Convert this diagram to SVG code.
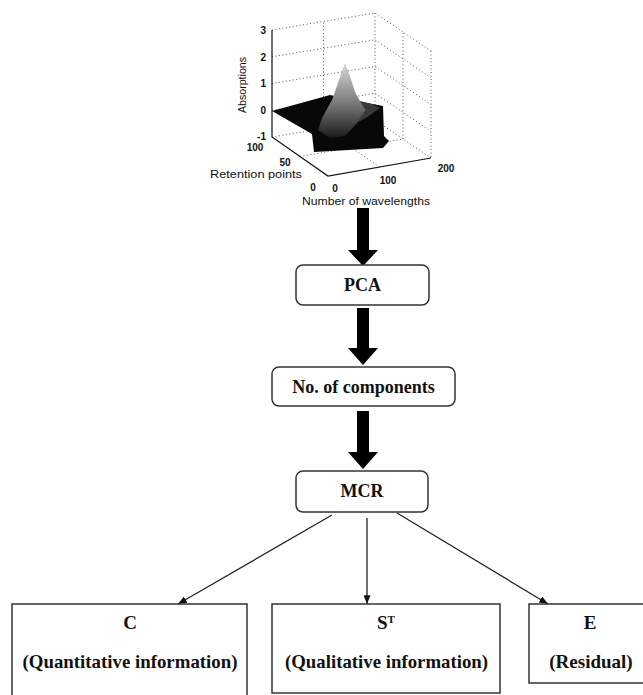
<svg xmlns="http://www.w3.org/2000/svg" width="643" height="695" viewBox="0 0 643 695">
<defs>
<style>
.box{fill:#fff;stroke:#333;stroke-width:1.5}
.t{font-family:"Liberation Serif","Times New Roman",serif;font-weight:bold;fill:#111;text-anchor:middle}
.up{font-size:18px}
.low{font-size:19px}
.ax{font-family:"Liberation Sans",Arial,sans-serif;fill:#111}
.num{font-size:10px;font-weight:bold}
.dot{stroke:#555;stroke-width:1;stroke-dasharray:1 2.5;fill:none}
.axis{stroke:#111;stroke-width:1.2;fill:none}
.big{fill:#000}
.thin{stroke:#222;stroke-width:1.3;fill:none;marker-end:url(#ah)}
</style>
<marker id="ah" viewBox="0 0 10 8" refX="10" refY="4" markerWidth="9" markerHeight="7" markerUnits="userSpaceOnUse" orient="auto">
<path d="M0,0 L10,4 L0,8 z" fill="#111"/>
</marker>
<linearGradient id="ridge" x1="0" y1="0" x2="0" y2="1">
<stop offset="0" stop-color="#d8d8d8"/>
<stop offset="0.45" stop-color="#8a8a8a"/>
<stop offset="1" stop-color="#1a1a1a"/>
</linearGradient>
</defs>
<rect width="643" height="695" fill="#fff"/>

<g id="plot">
<polyline class="dot" points="272,30 375,13 431,51"/>
<line class="dot" x1="375" y1="13" x2="375" y2="120"/>
<line class="dot" x1="431" y1="51" x2="431" y2="158"/>
<polyline class="dot" points="272,137 375,120 431,158"/>
<polyline class="dot" points="272,56.8 375,39.8 431,77.8"/>
<polyline class="dot" points="272,83.5 375,66.5 431,104.5"/>
<polyline class="dot" points="272,110.3 375,93.3 431,131.3"/>
<line class="dot" x1="323.5" y1="128.5" x2="323.5" y2="21.5"/>
<line class="dot" x1="403" y1="139" x2="403" y2="32"/>
<line class="dot" x1="300" y1="156.5" x2="403" y2="139"/>
<line class="dot" x1="379.5" y1="167" x2="323.5" y2="128.5"/>
<polygon points="272,111 330,95 362,102 383,106 384,136 389,141 383,148 314,152 312,134" fill="#080808"/>
<polygon points="345,63 350,76 355,92 360,101 366,110 358,122 345,136 330,138 318,130 322,118 332,100 339,80" fill="url(#ridge)"/>
<polygon points="360,101 372,104 380,108 366,118 358,122 366,110" fill="#3a3a3a"/>
<polyline class="axis" points="272,30 272,137 328,176 431,158"/>
<g class="ax num" text-anchor="end">
<text x="266" y="34">3</text>
<text x="266" y="61">2</text>
<text x="266" y="87">1</text>
<text x="266" y="114">0</text>
<text x="266" y="140">-1</text>
</g>
<g class="ax num" text-anchor="middle">
<text x="255" y="151">100</text>
<text x="285" y="166">50</text>
<text x="313" y="191">0</text>
<text x="335" y="192">0</text>
<text x="388" y="184">100</text>
<text x="446" y="172">200</text>
</g>
<text class="ax" font-size="10" text-anchor="middle" transform="translate(246,85) rotate(-90)" textLength="56" lengthAdjust="spacingAndGlyphs">Absorptions</text>
<text class="ax" font-size="10" x="210" y="178" textLength="92" lengthAdjust="spacingAndGlyphs">Retention points</text>
<text class="ax" font-size="11" x="302" y="205" textLength="128" lengthAdjust="spacingAndGlyphs">Number of wavelengths</text>
</g>

<g id="connectors">
<polygon class="big" points="357,208 369,208 369,250 378,250 363,266 348,250 357,250"/>
<polygon class="big" points="357,308 369,308 369,348 378,348 363,365 348,348 357,348"/>
<polygon class="big" points="357,411 369,411 369,452 378,452 363,469 348,452 357,452"/>
<line class="thin" x1="332" y1="515" x2="178" y2="604"/>
<line class="thin" x1="367" y1="518" x2="367" y2="604"/>
<line class="thin" x1="397" y1="513" x2="548" y2="604"/>
</g>

<g id="pca">
<rect class="box" x="296" y="265" width="133" height="40" rx="7"/>
<text class="t up" x="362.5" y="291">PCA</text>
</g>
<g id="components">
<rect class="box" x="272" y="367" width="183" height="39" rx="7"/>
<text class="t up" x="363.5" y="393">No. of components</text>
</g>
<g id="mcr">
<rect class="box" x="296" y="471" width="132" height="41" rx="7"/>
<text class="t up" x="362" y="497">MCR</text>
</g>
<g id="c">
<rect class="box" x="12" y="604" width="235" height="110"/>
<text class="t low" x="130" y="629">C</text>
<text class="t low" x="130" y="668" textLength="215" lengthAdjust="spacingAndGlyphs">(Quantitative information)</text>
</g>
<g id="st">
<rect class="box" x="272" y="604" width="228" height="89"/>
<text class="t low" x="386" y="629">S<tspan font-size="11" dy="-6">T</tspan></text>
<text class="t low" x="386.5" y="668" textLength="203" lengthAdjust="spacingAndGlyphs">(Qualitative information)</text>
</g>
<g id="e">
<rect class="box" x="529" y="604" width="130" height="79"/>
<text class="t low" x="590" y="629">E</text>
<text class="t low" x="591" y="668">(Residual)</text>
</g>
</svg>
